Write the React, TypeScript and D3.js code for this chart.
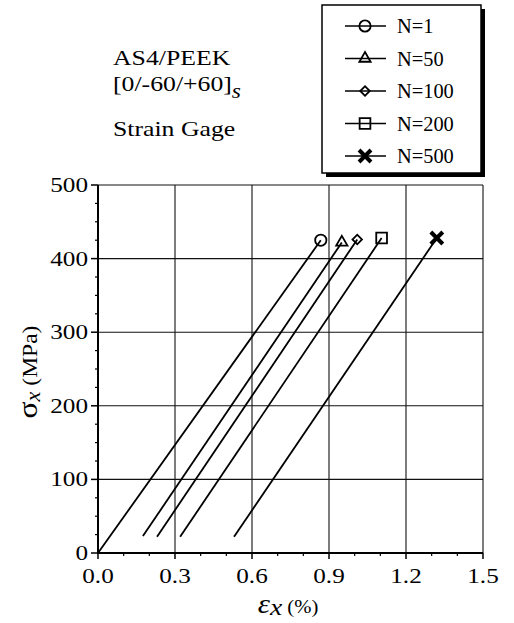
import React from "react";
import * as d3 from "d3";

const seriesLabels = ["N=1", "N=50", "N=100", "N=200", "N=500"];
const startStrain = [0, 0.175, 0.23, 0.32, 0.53];
const startStress = [0, 23, 22, 22, 22];
const endStrain = [0.868, 0.95, 1.01, 1.105, 1.32];
const endStress = [425, 422, 426, 428, 428];
const xTicks = [0, 0.3, 0.6, 0.9, 1.2, 1.5];
const yTicks = [0, 100, 200, 300, 400, 500];
const titleLines = ["AS4/PEEK", "[0/-60/+60]", "Strain Gage"];

const W = 514;
const H = 623;
const x = d3.scaleLinear().domain([0, 1.5]).range([98, 483]);
const y = d3.scaleLinear().domain([0, 500]).range([553, 185]);

const FONT = "'Liberation Serif', 'Times New Roman', Times, serif";

function T({ x, y, size, sx = 1, anchor = "start", rot = 0, children, style }: any) {
  return (
    <text
      transform={`translate(${x},${y}) rotate(${rot}) scale(${sx},1)`}
      fontSize={size}
      textAnchor={anchor}
      fontFamily={FONT}
      fill="#000"
      style={style}
    >
      {children}
    </text>
  );
}

function Marker({ i, cx, cy }: { i: number; cx: number; cy: number }) {
  const sym = d3.symbol();
  let d = "";
  let rot = 0;
  let sw = 1.8;
  if (i === 0) d = sym.type(d3.symbolCircle).size(100)() as string;
  if (i === 1) d = sym.type(d3.symbolTriangle).size(55)() as string;
  if (i === 2) {
    d = sym.type(d3.symbolSquare).size(45)() as string;
    rot = 45;
  }
  if (i === 3) d = sym.type(d3.symbolSquare).size(115)() as string;
  if (i === 4) {
    d = sym.type(d3.symbolX).size(95)() as string;
    sw = 4;
  }
  return (
    <path
      d={d}
      transform={`translate(${cx},${cy}) rotate(${rot})`}
      fill="none"
      stroke="#000"
      strokeWidth={sw}
    />
  );
}

export default function App() {
  const yMinor = d3.range(0, 501, 25).filter((v) => v % 100 !== 0);
  const xMinor = d3.range(0, 15.1, 1).map((v) => v / 10).filter((v) => Math.round(v * 10) % 3 !== 0);
  const legendX = 322;
  const legendY = 5;
  const rowY = (k: number) => 26 + k * 32.5;

  return (
    <svg width={W} height={H} style={{ position: "absolute", left: 0, top: 0, background: "#fff" }}>
      <rect width={W} height={H} fill="#fff" />
      {/* grid */}
      {xTicks.slice(1).map((t) => (
        <line key={"gx" + t} x1={x(t)} x2={x(t)} y1={y(0)} y2={y(500)} stroke="#111" strokeWidth={1.1} />
      ))}
      {yTicks.slice(1).map((t) => (
        <line key={"gy" + t} x1={x(0)} x2={x(1.5)} y1={y(t)} y2={y(t)} stroke="#111" strokeWidth={1.1} />
      ))}
      {/* axes */}
      <line x1={x(0)} x2={x(0)} y1={y(0) + 1} y2={y(500)} stroke="#000" strokeWidth={2} />
      <line x1={x(0) - 1} x2={x(1.5)} y1={y(0)} y2={y(0)} stroke="#000" strokeWidth={2} />
      {/* major ticks */}
      {yTicks.map((t) => (
        <line key={"ty" + t} x1={x(0) - 7} x2={x(0)} y1={y(t)} y2={y(t)} stroke="#000" strokeWidth={1.5} />
      ))}
      {xTicks.map((t) => (
        <line key={"tx" + t} x1={x(t)} x2={x(t)} y1={y(0)} y2={y(0) + 6} stroke="#000" strokeWidth={1.5} />
      ))}
      {yMinor.map((t) => (
        <line key={"my" + t} x1={x(0) - 3} x2={x(0)} y1={y(t)} y2={y(t)} stroke="#000" strokeWidth={1.2} />
      ))}
      {xMinor.map((t) => (
        <line key={"mx" + t} x1={x(t)} x2={x(t)} y1={y(0)} y2={y(0) + 3} stroke="#000" strokeWidth={1.2} />
      ))}
      {/* tick labels */}
      {yTicks.map((t) => (
        <T key={"ly" + t} x={x(0) - 10} y={y(t) + 7} size={21} sx={1.2} anchor="end">
          {String(t)}
        </T>
      ))}
      {xTicks.map((t) => (
        <T key={"lx" + t} x={x(t)} y={583} size={21} sx={1.2} anchor="middle">
          {t.toFixed(1)}
        </T>
      ))}
      {/* series */}
      {seriesLabels.map((s, i) => (
        <g key={s}>
          <line
            x1={x(startStrain[i])}
            y1={y(startStress[i])}
            x2={x(endStrain[i])}
            y2={y(endStress[i])}
            stroke="#000"
            strokeWidth={1.8}
          />
          <Marker i={i} cx={x(endStrain[i])} cy={y(endStress[i])} />
        </g>
      ))}
      {/* axis labels */}
      <text
        transform="translate(288,613) scale(1.15,1)"
        textAnchor="middle"
        fontFamily={FONT}
        fill="#000"
      >
        <tspan fontSize={27} fontStyle="italic">ε</tspan>
        <tspan fontSize={24} fontStyle="italic" dy={2}>x</tspan>
        <tspan fontSize={18} dy={-2}>{"  (%)"}</tspan>
      </text>
      <text
        transform="translate(37,372) rotate(-90) scale(1.12,1)"
        textAnchor="middle"
        fontFamily={FONT}
        fill="#000"
      >
        <tspan fontSize={28}>σ</tspan>
        <tspan fontSize={20} fontStyle="italic" dy={3}>x</tspan>
        <tspan fontSize={21} dy={-3}>{" (MPa)"}</tspan>
      </text>
      {/* title */}
      <T x={113} y={65} size={22} sx={1.17}>{titleLines[0]}</T>
      <text transform="translate(113,91) scale(1.17,1)" fontFamily={FONT} fontSize={22} fill="#000">
        {titleLines[1]}
        <tspan fontStyle="italic" fontSize={20} dy={7}>s</tspan>
      </text>
      <T x={113} y={136} size={22} sx={1.17}>{titleLines[2]}</T>
      {/* legend */}
      <rect x={legendX + 4} y={legendY + 4} width={159} height={168} fill="#000" />
      <rect x={legendX} y={legendY} width={159} height={168} fill="#fff" stroke="#000" strokeWidth={1.5} />
      {seriesLabels.map((s, i) => (
        <g key={"lg" + s}>
          <line x1={345} x2={386} y1={rowY(i)} y2={rowY(i)} stroke="#000" strokeWidth={1.4} />
          <Marker i={i} cx={365} cy={rowY(i)} />
          <T x={397} y={rowY(i) + 7} size={20} sx={1.02}>{s}</T>
        </g>
      ))}
    </svg>
  );
}
